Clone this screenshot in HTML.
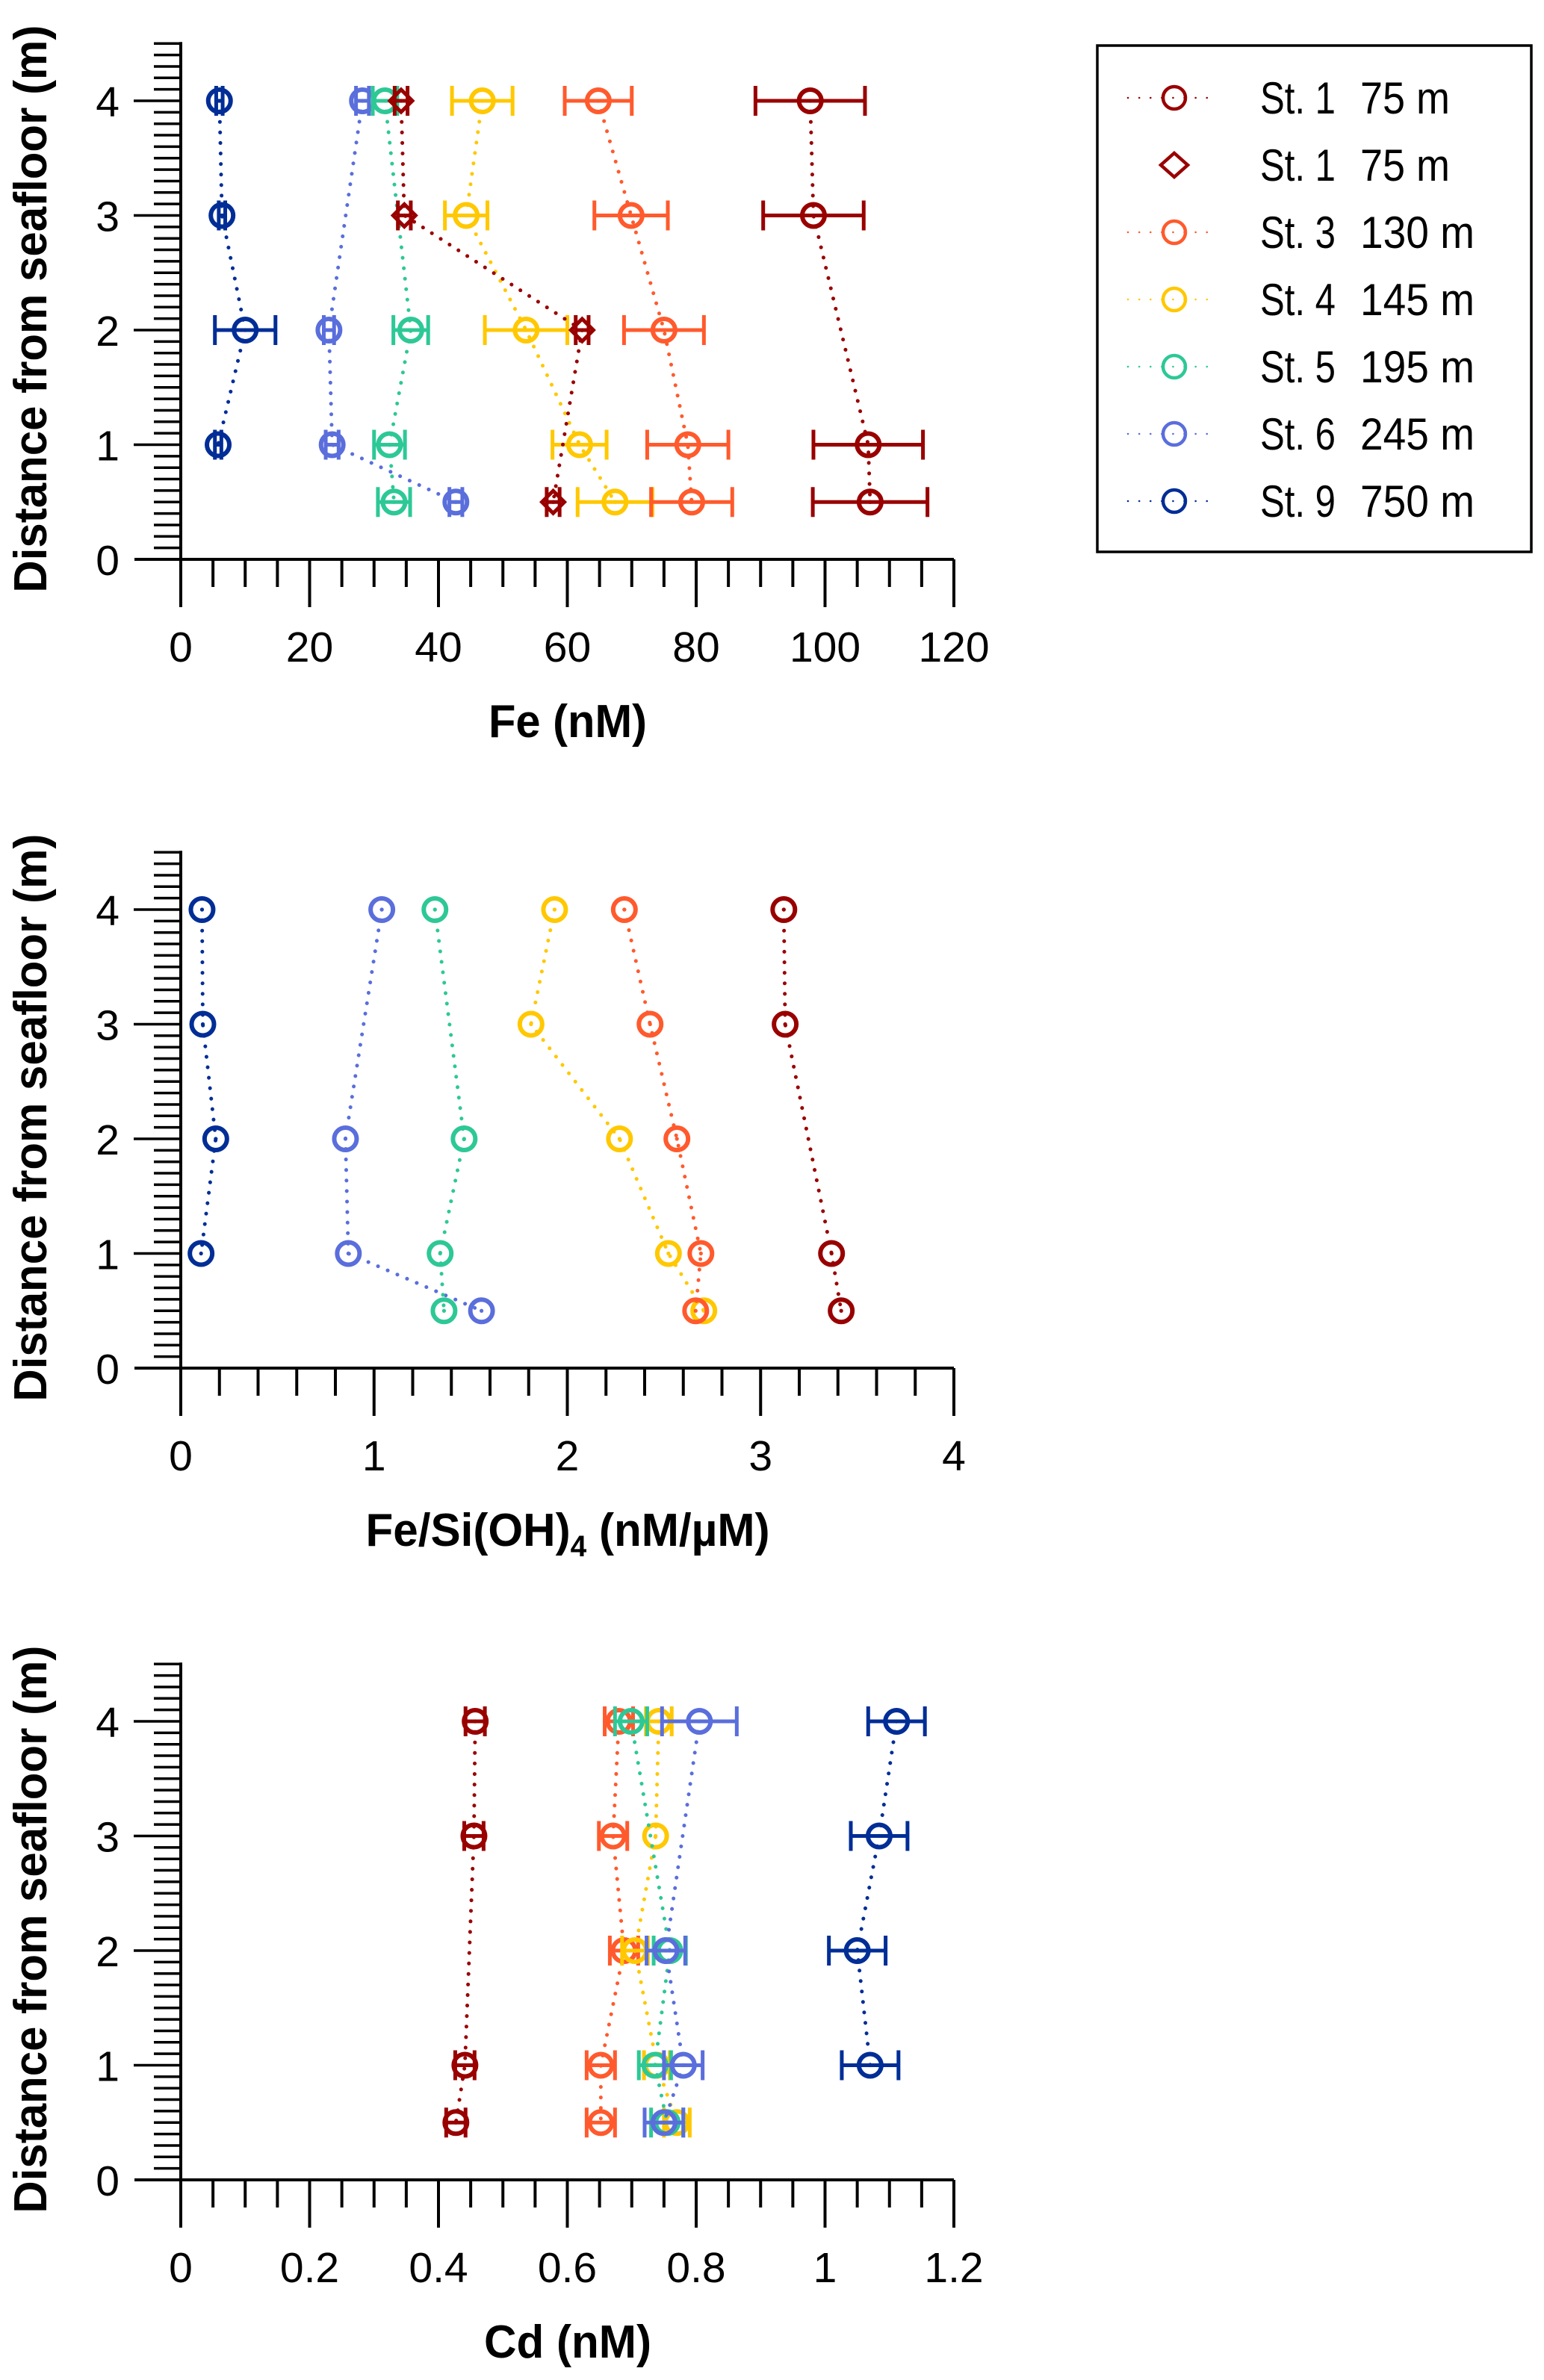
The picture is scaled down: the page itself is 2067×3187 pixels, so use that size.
<!DOCTYPE html>
<html><head><meta charset="utf-8"><style>
html,body{margin:0;padding:0;background:#fff;}
svg{display:block;}
text{font-family:"Liberation Sans",sans-serif;fill:#000;}
</style></head><body>
<svg id="fig" width="2067" height="3187" viewBox="0 0 2067 3187" xmlns="http://www.w3.org/2000/svg">
<g id="legend"></g>
</svg>
<script>
const depths = [4, 3, 2, 1, 0.5];
const seriesNames = ["St. 1", "St. 1", "St. 3", "St. 4", "St. 5", "St. 6", "St. 9"];
const seriesDepths = ["75 m", "75 m", "130 m", "145 m", "195 m", "245 m", "750 m"];

// Panel 1: Fe (nM)
const feSt1 = [97.7, 98.2, null, 106.7, 107];
const feSt1Err = [8.5, 7.8, null, 8.5, 8.9];
const feSt1d = [34.2, 34.7, 62.3, null, 57.8];
const feSt1dErr = [1, 1, 1, null, 1];
const feSt3 = [64.8, 69.9, 75, 78.7, 79.3];
const feSt3Err = [5.2, 5.7, 6.2, 6.3, 6.3];
const feSt4 = [46.8, 44.3, 53.6, 61.9, 67.4];
const feSt4Err = [4.7, 3.3, 6.4, 4.2, 5.8];
const feSt5 = [31.7, null, 35.7, 32.4, 33.1];
const feSt5Err = [1.9, null, 2.7, 2.4, 2.5];
const feSt6 = [28.2, null, 23, 23.5, 42.7];
const feSt6Err = [1, null, 0.8, 1, 1];
const feSt9 = [6, 6.4, 10, 5.8, null];
const feSt9Err = [0.5, 0.5, 4.7, 0.5, null];
const feTicks = ["0", "20", "40", "60", "80", "100", "120"];

// Panel 2: Fe/Si(OH)4
const fsSt1 = [3.12, 3.127, null, 3.367, 3.417];
const fsSt3 = [2.295, 2.428, 2.567, 2.691, 2.664];
const fsSt4 = [1.934, 1.812, 2.27, 2.523, 2.706];
const fsSt5 = [1.315, null, 1.466, 1.342, 1.362];
const fsSt6 = [1.04, null, 0.852, 0.867, 1.556];
const fsSt9 = [0.11, 0.114, 0.181, 0.105, null];
const fsTicks = ["0", "1", "2", "3", "4"];

// Panel 3: Cd (nM)
const cdSt1 = [0.457, 0.455, null, 0.441, 0.427];
const cdSt1Err = [0.015, 0.015, null, 0.015, 0.015];
const cdSt3 = [0.68, 0.671, 0.688, 0.652, 0.652];
const cdSt3Err = [0.022, 0.022, 0.022, 0.022, 0.022];
const cdSt4 = [0.742, 0.737, 0.705, 0.739, 0.77];
const cdSt4Err = [0.02, 0.0, 0.02, 0.02, 0.02];
const cdSt5 = [0.699, null, 0.759, 0.736, 0.755];
const cdSt5Err = [0.025, null, 0.025, 0.025, 0.025];
const cdSt6 = [0.805, null, 0.753, 0.78, 0.75];
const cdSt6Err = [0.058, null, 0.03, 0.03, 0.03];
const cdSt9 = [1.111, 1.084, 1.05, 1.07, null];
const cdSt9Err = [0.044, 0.044, 0.044, 0.044, null];
const cdTicks = ["0", "0.2", "0.4", "0.6", "0.8", "1", "1.2"];

const yTicks = ["0", "1", "2", "3", "4"];

const C = {st1:"#990000", st3:"#FF5A2D", st4:"#FFC800", st5:"#2DC896", st6:"#5A6EDC", st9:"#002D96"};
const NS = "http://www.w3.org/2000/svg";
const svg = document.getElementById("fig");
function mk(tag, attrs, parent){
  const e = document.createElementNS(NS, tag);
  for (const k in attrs) e.setAttribute(k, attrs[k]);
  (parent||svg).appendChild(e);
  return e;
}

const X0 = 242, X1 = 1277, UNIT = 153.5;

function panel(idx, y0, xmax, minorStep, majorStep, ticks, title, titleLen, sub, series){
  const g = mk("g", {});
  
  
  const sx = v => X0 + (X1 - X0) * v / xmax;
  const sy = v => y0 - UNIT * v;
  const ax = mk("g", {stroke:"#000", "stroke-width":4, fill:"none"}, g);
  
  
  mk("line", {x1:180, y1:y0, x2:X1, y2:y0}, ax);
  mk("line", {x1:X0, y1:y0+64, x2:X0, y2:sy(4.5)-2}, ax);
  const nMinor = Math.round(xmax / minorStep);
  const perMajor = Math.round(majorStep / minorStep);
  for (let i = 0; i <= nMinor; i++){
    const len = (i % perMajor === 0) ? 64 : 37;
    mk("line", {x1:sx(i*minorStep), y1:y0, x2:sx(i*minorStep), y2:y0+len}, ax);
  }
  for (let i = 1; i <= 45; i++){
    const major = i % 10 === 0;
    mk("line", {x1:major ? 179 : 206, y1:sy(i/10), x2:X0, y2:sy(i/10), "stroke-width":3.5}, ax);
  }
  ticks.forEach((t, i) => {
    const tx = mk("text", {x:sx(i*majorStep), y:y0+137, "font-size":57, "text-anchor":"middle"}, g);
    tx.textContent = t;
    
    
  });
  yTicks.forEach((t, i) => {
    const tx = mk("text", {x:160, y:sy(i)+21, "font-size":57, "text-anchor":"end"}, g);
    tx.textContent = t;
    
    
  });
  const xt = mk("text", {x:760, y:y0+238, "font-size":62, "font-weight":"bold", "text-anchor":"middle", textLength:titleLen, lengthAdjust:"spacingAndGlyphs"}, g);
  
  
  if (sub){
    xt.appendChild(document.createTextNode("Fe/Si(OH)"));
    const ts = mk("tspan", {"font-size":40, dy:14}, xt); ts.textContent = "4";
    const ts2 = mk("tspan", {dy:-14}, xt); ts2.textContent = " (nM/µM)";
  } else xt.textContent = title;
  const ymid = (y0 + sy(4.5)) / 2 + 10;
  const yt = mk("text", {x:0, y:0, "font-size":62, "font-weight":"bold", "text-anchor":"middle", textLength:760, lengthAdjust:"spacingAndGlyphs", transform:`translate(62,${ymid}) rotate(-90)`}, g);
  yt.textContent = "Distance from seafloor (m)";
  
  

  series.forEach(s => {
    const sg = mk("g", {}, g);
    
    
    const pts = [];
    s.vals.forEach((v, i) => { if (v !== null) pts.push(sx(v) + "," + sy(depths[i])); });
    const ln = mk("polyline", {points:pts.join(" "), fill:"none", stroke:s.color, "stroke-width":5, "stroke-dasharray":"0.1 14", "stroke-linecap":"round"}, sg);
    
    
    s.vals.forEach((v, i) => {
      if (v === null) return;
      const cx = sx(v), cy = sy(depths[i]);
      if (s.err && s.err[i]){
        const e = s.err[i];
        const eb = mk("path", {d:`M${sx(v-e)},${cy}H${sx(v+e)}M${sx(v-e)},${cy-20}V${cy+20}M${sx(v+e)},${cy-20}V${cy+20}`, stroke:s.color, "stroke-width":5, fill:"none"}, sg);
        
        
      }
      let m;
      if (s.diamond){
        m = mk("path", {d:`M${cx},${cy-15}L${cx+15},${cy}L${cx},${cy+15}L${cx-15},${cy}Z`, fill:"none", stroke:s.color, "stroke-width":5}, sg);
      } else {
        m = mk("circle", {cx:cx, cy:cy, r:15, fill:"none", stroke:s.color, "stroke-width":6}, sg);
      }
      
      
      mk("circle", {cx:cx, cy:cy, r:2.6, fill:s.color}, sg);
    });
  });
}

panel(1, 749, 120, 5, 20, feTicks, "Fe (nM)", 212, false, [
  {name:"st9", color:C.st9, vals:feSt9, err:feSt9Err},
  {name:"st6", color:C.st6, vals:feSt6, err:feSt6Err},
  {name:"st5", color:C.st5, vals:feSt5, err:feSt5Err},
  {name:"st4", color:C.st4, vals:feSt4, err:feSt4Err},
  {name:"st3", color:C.st3, vals:feSt3, err:feSt3Err},
  {name:"st1-diamond", color:C.st1, vals:feSt1d, err:feSt1dErr, diamond:true},
  {name:"st1", color:C.st1, vals:feSt1, err:feSt1Err}
]);
panel(2, 1832, 4, 0.2, 1, fsTicks, "", 541, true, [
  {name:"st9", color:C.st9, vals:fsSt9},
  {name:"st6", color:C.st6, vals:fsSt6},
  {name:"st5", color:C.st5, vals:fsSt5},
  {name:"st4", color:C.st4, vals:fsSt4},
  {name:"st3", color:C.st3, vals:fsSt3},
  {name:"st1", color:C.st1, vals:fsSt1}
]);
panel(3, 2919, 1.2, 0.05, 0.2, cdTicks, "Cd (nM)", 224, false, [
  {name:"st1", color:C.st1, vals:cdSt1, err:cdSt1Err},
  {name:"st3", color:C.st3, vals:cdSt3, err:cdSt3Err},
  {name:"st4", color:C.st4, vals:cdSt4, err:cdSt4Err},
  {name:"st5", color:C.st5, vals:cdSt5, err:cdSt5Err},
  {name:"st6", color:C.st6, vals:cdSt6, err:cdSt6Err},
  {name:"st9", color:C.st9, vals:cdSt9, err:cdSt9Err}
]);

const lg = document.getElementById("legend");
mk("rect", {x:1469, y:61, width:581, height:678, fill:"#fff", stroke:"#000", "stroke-width":3.5}, lg);
const legColors = [C.st1, C.st1, C.st3, C.st4, C.st5, C.st6, C.st9];
seriesNames.forEach((n, i) => {
  const cy = 131 + i * 90;
  const eg = mk("g", {}, lg);
  
  
  const col = legColors[i];
  if (i !== 1){
    mk("line", {x1:1510, y1:cy, x2:1630, y2:cy, stroke:col, "stroke-width":2.5, "stroke-dasharray":"0.1 15", "stroke-linecap":"round"}, eg);
    mk("circle", {cx:1572, cy:cy, r:15, fill:"none", stroke:col, "stroke-width":4.5}, eg);
  } else {
    mk("path", {d:`M1572,${cy-16}L1590,${cy}L1572,${cy+16}L1554,${cy}Z`, fill:"none", stroke:col, "stroke-width":4.5}, eg);
  }
  const t1 = mk("text", {x:1687, y:cy+21, "font-size":60, textLength: 101, lengthAdjust:"spacingAndGlyphs"}, eg);
  t1.textContent = n;
  const t2 = mk("text", {x:1821, y:cy+21, "font-size":60, textLength: seriesDepths[i].length === 4 ? 120 : 153, lengthAdjust:"spacingAndGlyphs"}, eg);
  t2.textContent = seriesDepths[i];
});
</script>
</body></html>
